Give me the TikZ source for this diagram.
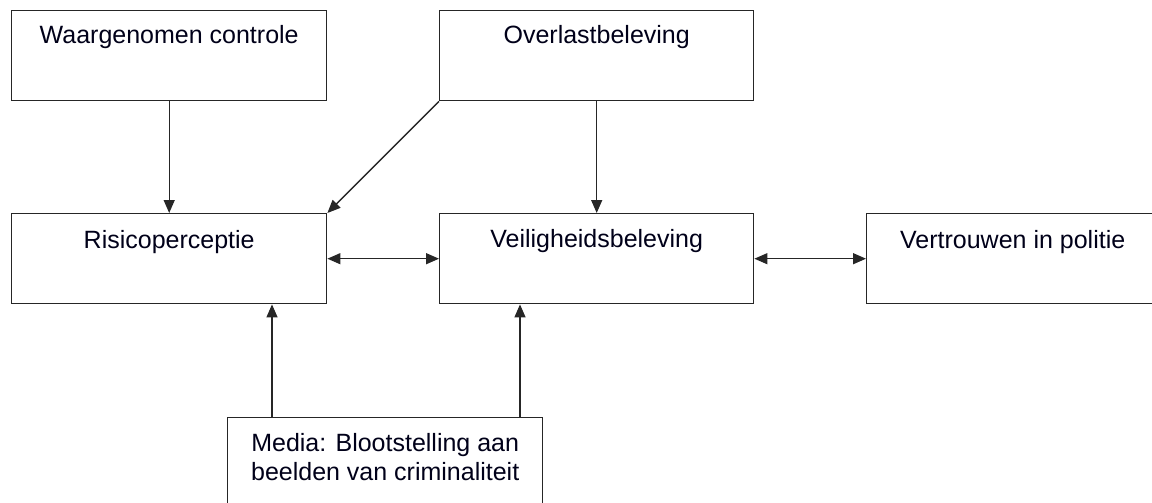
\documentclass[tikz,border=0pt]{standalone}
\usepackage{fontspec}
\setmainfont{Liberation Sans}
\usetikzlibrary{arrows.meta,calc}
\begin{document}
\begin{tikzpicture}[x=1pt,y=-1pt,
  boxnode/.style={draw=black!85,line width=1.4pt,rectangle,inner sep=0pt,anchor=north west},
  txt/.style={font=\fontsize{25}{29.5}\selectfont,anchor=base,inner sep=0pt,align=center,text=black!90!blue},
  arr/.style={draw=black!85,line width=1.3pt,-{Triangle[length=13pt,width=11pt]}},
  darr/.style={draw=black!85,line width=1.3pt,{Triangle[length=13pt,width=11pt]}-{Triangle[length=13pt,width=11pt]}}]
\useasboundingbox (0,0) rectangle (1152,503);
\fill[white] (0,0) rectangle (1152,503);
% boxes
\node[boxnode,minimum width=315pt,minimum height=90pt] (waar) at (11,10) {};
\node[boxnode,minimum width=314pt,minimum height=90pt] (over) at (439,10) {};
\node[boxnode,minimum width=315pt,minimum height=90pt] (risk) at (11,213) {};
\node[boxnode,minimum width=314pt,minimum height=90pt] (veil) at (439,213) {};
\node[boxnode,minimum width=292pt,minimum height=90pt] (vert) at (866,213) {};
\node[boxnode,minimum width=315pt,minimum height=100pt] (media) at (227,417) {};
% texts
\node[txt] (twaar) at ($(waar.north)+(0,34)$) {Waargenomen controle};
\node[txt] (tover) at ($(over.north)+(0,34)$) {Overlastbeleving};
\node[txt] (trisk) at ($(risk.north)+(0,35)$) {Risicoperceptie};
\node[txt] (tveil) at ($(veil.north)+(0,34)$) {Veiligheidsbeleving};
\node[txt] (tvert) at ($(vert.north)+(0,35)$) {Vertrouwen in politie};
\node[txt,anchor=north] (tmedia) at ($(media.north)+(0,16)$) {Media: Blootstelling aan\\beelden van criminaliteit};
% connector columns
\coordinate (xa) at (272,0);
\coordinate (xb) at (520,0);
% arrows
\draw[arr] (waar.south) -- (risk.north);
\draw[arr] (over.south) -- (veil.north);
\draw[arr] (over.south west) -- (risk.north east);
\draw[darr] (risk.east) -- (veil.west);
\draw[darr] (veil.east) -- (vert.west);
\draw[arr] (media.north -| xa) -- (risk.south -| xa);
\draw[arr] (media.north -| xb) -- (veil.south -| xb);
\end{tikzpicture}
\end{document}
